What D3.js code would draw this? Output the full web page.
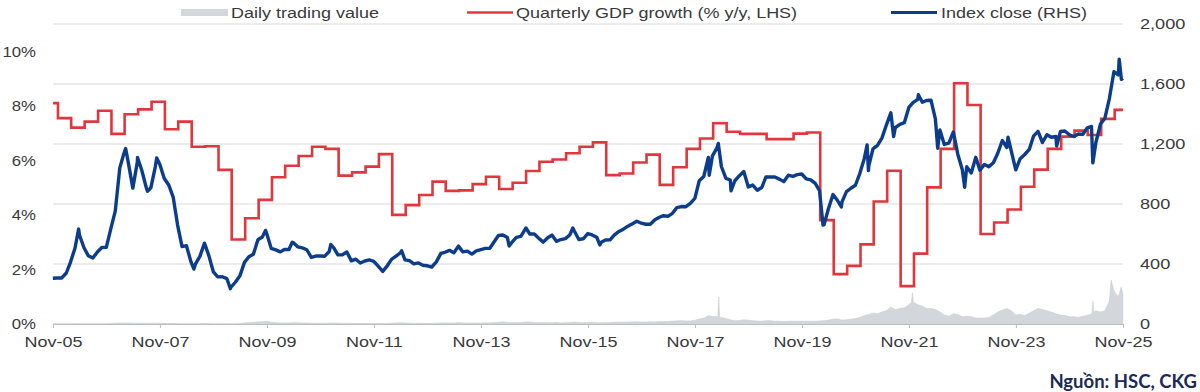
<!DOCTYPE html>
<html>
<head>
<meta charset="utf-8">
<script src="https://cdn.jsdelivr.net/npm/d3@7"></script>
<style>
  body { margin: 0; background: #fff; }
  svg { display: block; }
</style>
</head>
<body>
<div id="vis"></div>
<script>
// ---- data ----
// month-end values, Oct-05 .. Oct-25 (one per month)
const firstMonth = [2005, 9];
const indexClose = [
  305, 307, 307,
  340, 411, 505, 595, 510, 455, 440, 480, 510, 511, 633, 752,
  1041, 1137, 1071, 906, 1081, 1025, 908, 908, 1046, 1065, 972, 927,
  844, 663, 516, 522, 414, 399, 451, 539, 456, 347, 314, 315,
  303, 245, 280, 321, 411, 448, 465, 562, 580, 600, 504, 494,
  481, 497, 497, 542, 514, 507, 495, 444, 453, 453, 452, 484,
  508, 461, 462, 480, 421, 432, 407, 420, 427, 418, 386, 351,
  388, 431, 452, 475, 428, 422, 401, 407, 392, 388, 380, 414,
  471, 478, 491, 475, 519, 481, 486, 466, 488, 496, 504, 505,
  550, 590, 593, 577, 544, 578, 584, 634, 600, 600, 572, 546,
  575, 593, 551, 563, 569, 593, 620, 563, 568, 603, 594, 579,
  545, 560, 561, 594, 617, 632, 652, 668, 685, 672, 665, 665,
  695, 710, 722, 718, 738, 776, 783, 782, 804, 837, 955, 984,
  1110, 1121, 1174, 1050, 971, 960, 955, 989, 1017, 914, 926, 892,
  910, 980, 980, 980, 966, 949, 992, 984, 996, 1000, 967, 961,
  937, 889, 662, 769, 863, 825, 812, 882, 905, 925, 1003, 1104,
  1056, 1168, 1191, 1239, 1328, 1408, 1310, 1331, 1342, 1444, 1478, 1498,
  1478, 1490, 1492, 1367, 1293, 1197, 1206, 1280, 1132, 1028, 1048, 1007,
  1111, 1025, 1064, 1049, 1075, 1138, 1223, 1177, 1154, 1028, 1102, 1130,
  1164, 1252, 1284, 1210, 1262, 1245, 1251, 1283, 1287, 1262, 1250, 1267,
  1264, 1306, 1317, 1210, 1333, 1371, 1503, 1682, 1661, 1639
];
// intra-month highs and lows of the index
const indexExtremes = [
  ["2006-04-25", 633], ["2007-03-12", 1170], ["2007-06-01", 1110], ["2007-08-08", 885],
  ["2007-10-10", 1107], ["2008-06-20", 366], ["2009-02-24", 235], ["2009-10-22", 624],
  ["2010-04-22", 545], ["2011-01-10", 530], ["2012-05-08", 488], ["2014-05-12", 520],
  ["2014-09-04", 640], ["2015-07-21", 640], ["2016-01-21", 527], ["2018-02-06", 992],
  ["2018-04-09", 1204], ["2018-07-05", 888], ["2020-03-24", 660], ["2020-07-27", 780],
  ["2021-01-19", 1194], ["2021-01-28", 1023], ["2021-07-19", 1250], ["2022-01-04", 1528],
  ["2022-05-16", 1172], ["2022-11-16", 911], ["2023-09-08", 1245], ["2024-08-05", 1187],
  ["2025-04-09", 1074], ["2025-10-06", 1766], ["2025-10-21", 1631]
];
// daily trading value, VND trn (monthly typical level), Oct-05 .. Oct-25
const tradingValue = [
  0.3, 0.3, 0.3,
  0.3, 0.4, 0.6, 0.8, 0.6, 0.5, 0.4, 0.4, 0.5, 0.6, 0.9, 1.2,
  1.5, 1.6, 1.5, 1.2, 1.3, 1.2, 1.0, 1.0, 1.2, 1.3, 1.1, 1.0,
  0.9, 0.7, 0.5, 0.5, 0.4, 0.4, 0.5, 0.8, 0.7, 0.5, 0.4, 0.4,
  0.4, 0.3, 0.5, 0.9, 1.8, 2.5, 2.8, 3.5, 3.8, 4.5, 3.0, 2.0,
  1.8, 1.6, 1.8, 2.2, 2.0, 1.6, 1.5, 1.2, 1.2, 1.3, 1.3, 1.6,
  1.5, 1.2, 1.0, 1.2, 0.9, 0.9, 0.8, 0.8, 0.9, 0.8, 0.7, 0.6,
  0.8, 1.4, 1.8, 2.0, 1.6, 1.3, 1.0, 1.3, 1.0, 0.9, 0.9, 1.2,
  1.8, 1.7, 1.7, 1.6, 2.5, 1.8, 1.5, 1.5, 1.6, 1.8, 2.0, 1.8,
  2.4, 3.0, 3.6, 2.6, 2.2, 2.4, 2.3, 3.2, 3.4, 2.6, 2.2, 2.4,
  2.2, 2.2, 2.4, 1.8, 2.0, 2.6, 3.2, 2.6, 2.2, 2.6, 2.6, 2.2,
  2.0, 2.2, 2.6, 2.8, 2.8, 3.0, 3.2, 3.4, 3.6, 3.2, 3.4, 3.6,
  3.4, 4.0, 4.2, 4.2, 4.8, 5.2, 5.6, 5.0, 5.2, 6.0, 8.5, 9.5,
  14, 12, 13, 11, 9, 7, 5.5, 6, 7, 6.5, 5.5, 5,
  4.5, 5.5, 5.5, 4.5, 4.5, 4, 4.5, 4.5, 4.5, 4.5, 4.5, 4.5,
  4.5, 5, 5.5, 6.5, 8, 8.5, 6.5, 7, 8, 9, 11, 14,
  16, 18, 17, 20, 22, 28, 24, 26, 27, 32, 38, 32,
  30, 26, 26, 24, 20, 15, 13, 17, 16, 12, 13, 12,
  10, 10, 10, 11, 15, 20, 23, 26, 22, 15, 16, 14,
  18, 22, 26, 24, 22, 20, 17, 15, 14, 12, 12, 11,
  13, 14, 17, 22, 20, 22, 38, 55, 45, 50
];
// single-day spikes in trading value, with the level around them
const tradingExtremes = [
  ["2018-04-06", 11], ["2018-04-12", 45], ["2018-04-18", 11],
  ["2021-11-18", 36], ["2021-11-25", 52], ["2021-12-02", 36],
  ["2025-04-04", 20], ["2025-04-10", 38], ["2025-04-16", 20],
  ["2025-08-12", 73], ["2025-10-20", 62]
];
// GDP growth, % y/y (year to date), one per quarter from Q3-05 to Q3-25
const gdpGrowth = [
  8.1, 7.55,
  7.2, 7.42, 7.82, 6.97,
  7.69, 7.87, 8.15, 7.14,
  7.42, 6.5, 6.52, 5.65,
  3.1, 3.88, 4.55, 5.38,
  5.8, 6.16, 6.5, 6.42,
  5.44, 5.56, 5.77, 6.23,
  4.0, 4.36, 4.73, 5.22,
  4.88, 4.9, 5.13, 5.4,
  4.95, 5.18, 5.61, 5.95,
  6.03, 6.26, 6.5, 6.66,
  5.46, 5.52, 5.92, 6.21,
  5.1, 5.75, 6.42, 6.8,
  7.36, 7.05, 6.97, 6.97,
  6.78, 6.78, 6.98, 7.02,
  3.81, 1.83, 2.13, 2.92,
  4.49, 5.62, 1.39, 2.58,
  5.01, 6.42, 8.83, 8.03,
  3.3, 3.72, 4.2, 5.03,
  5.66, 6.42, 6.87, 7.09,
  6.93, 7.52, 7.85
];
const leftTicks = [0, 2, 4, 6, 8, 10];
const rightTicks = [0, 400, 800, 1200, 1600, 2000];
const xTickYears = [2005, 2007, 2009, 2011, 2013, 2015, 2017, 2019, 2021, 2023, 2025];
const legendLabels = ["Daily trading value", "Quarterly GDP growth (% y/y, LHS)", "Index close (RHS)"];
const sourceNote = "Nguồn: HSC, CKG";

// ---- build series ----
const parse = d3.timeParse("%Y-%m-%d");
const monthEnd = i => new Date(firstMonth[0], firstMonth[1] + i + 1, 0);

const indexData = indexClose.map((v, i) => ({date: monthEnd(i), v}))
  .concat(indexExtremes.map(d => ({date: parse(d[0]), v: d[1]})))
  .sort((a, b) => a.date - b.date);

const tradeData = tradingValue.map((v, i) => ({date: monthEnd(i), v}))
  .concat(tradingExtremes.map(d => ({date: parse(d[0]), v: d[1]})))
  .sort((a, b) => a.date - b.date);

// chart space
const width = 1200;
const height = 392;
const margin = ({top: 24, right: 77, bottom: 68, left: 53});
const start = new Date(2005, 10, 1);
const end = new Date(2025, 10, 1);

const gdpData = gdpGrowth.map((v, i) => {
  const d = new Date(2005, 8 + 3 * i, 5);
  return {date: d < start ? start : d, v};
});
gdpData.push({date: end, v: gdpGrowth[gdpGrowth.length - 1]});

const svg = d3.select('#vis').append('svg')
  .attr('width', width)
  .attr('height', height);

// scales
const x = d3.scaleTime()
  .domain([start, end])
  .range([margin.left, width - margin.right]);

const yLeft = d3.scaleLinear()
  .domain([0, 11])
  .range([height - margin.bottom, margin.top]);

const yRight = d3.scaleLinear()
  .domain([0, 2000])
  .range([height - margin.bottom, margin.top]);

// hidden scale for the trading value area
const yTrade = d3.scaleLinear()
  .domain([0, 500])
  .range([height - margin.bottom, margin.top]);

const font = 'Liberation Sans, Arial, sans-serif';
const textColor = '#3a3a3a';

// stretch labels a little: the source picture is wider than it is tall
function widen(sel, k) {
  sel.each(function () {
    const w = this.getComputedTextLength();
    d3.select(this).attr('textLength', w * k).attr('lengthAdjust', 'spacingAndGlyphs');
  });
}

// gridlines
svg.append('g')
  .selectAll('line')
  .data(rightTicks.filter(d => d > 0))
  .join('line')
    .attr('x1', margin.left)
    .attr('x2', width - margin.right)
    .attr('y1', d => yRight(d))
    .attr('y2', d => yRight(d))
    .attr('stroke', '#d9d9d9')
    .attr('stroke-width', 1);

// trading value area
svg.append('path')
  .datum(tradeData)
  .attr('fill', '#d3d6db')
  .attr('stroke', '#c9ccd1')
  .attr('stroke-width', 0.6)
  .attr('d', d3.area()
    .x(d => x(d.date))
    .y0(yTrade(0))
    .y1(d => yTrade(d.v)));

// x axis
const xAxis = svg.append('g')
  .attr('transform', `translate(0, ${height - margin.bottom})`)
  .call(d3.axisBottom(x)
    .tickValues(xTickYears.map(y => new Date(y, 10, 1)))
    .tickFormat(d3.timeFormat('%b-%y'))
    .tickSize(4)
    .tickSizeOuter(0)
    .tickPadding(8));
xAxis.select('.domain').attr('stroke', '#bfbfbf');
xAxis.selectAll('.tick line').attr('stroke', '#bfbfbf');
xAxis.selectAll('text')
  .attr('font-family', font)
  .attr('font-size', 15.5)
  .attr('fill', textColor);

// left axis
const leftAxis = svg.append('g')
  .attr('transform', 'translate(36, 0)')
  .call(d3.axisLeft(yLeft).tickValues(leftTicks).tickFormat(d => d + '%').tickSize(0).tickPadding(0));
leftAxis.select('.domain').remove();
leftAxis.selectAll('text')
  .attr('font-family', font)
  .attr('font-size', 15.5)
  .attr('fill', textColor);

// right axis
const rightAxis = svg.append('g')
  .attr('transform', 'translate(1140, 0)')
  .call(d3.axisRight(yRight).tickValues(rightTicks).tickFormat(d3.format(',')).tickSize(0).tickPadding(0));
rightAxis.select('.domain').remove();
rightAxis.selectAll('text')
  .attr('font-family', font)
  .attr('font-size', 15.5)
  .attr('fill', textColor);

// GDP step line
svg.append('path')
  .datum(gdpData)
  .attr('fill', 'none')
  .attr('stroke', '#e0363c')
  .attr('stroke-width', 2.6)
  .attr('d', d3.line()
    .curve(d3.curveStepAfter)
    .x(d => x(d.date))
    .y(d => yLeft(d.v)));

// index line
svg.append('path')
  .datum(indexData)
  .attr('fill', 'none')
  .attr('stroke', '#0c3d8d')
  .attr('stroke-width', 3.4)
  .attr('stroke-linejoin', 'round')
  .attr('d', d3.line()
    .x(d => x(d.date))
    .y(d => yRight(d.v)));

// legend
const legend = svg.append('g');
legend.append('rect')
  .attr('x', 181).attr('y', 9)
  .attr('width', 47).attr('height', 7)
  .attr('fill', '#d3d6db');
legend.append('line')
  .attr('x1', 467).attr('x2', 513).attr('y1', 12.5).attr('y2', 12.5)
  .attr('stroke', '#e0363c').attr('stroke-width', 2.6);
legend.append('line')
  .attr('x1', 891).attr('x2', 937).attr('y1', 12.5).attr('y2', 12.5)
  .attr('stroke', '#0c3d8d').attr('stroke-width', 3);
legend.selectAll('text')
  .data(legendLabels)
  .join('text')
    .attr('x', (d, i) => [231, 516, 941][i])
    .attr('y', 18)
    .attr('font-family', font)
    .attr('font-size', 15.5)
    .attr('fill', textColor)
    .text(d => d);

// source
svg.append('text')
  .attr('x', 1197)
  .attr('y', 388)
  .attr('text-anchor', 'end')
  .attr('font-family', 'Lato, sans-serif')
  .attr('font-weight', 700)
  .attr('font-size', 18.5)
  .attr('fill', '#1b2a58')
  .text(sourceNote);

widen(xAxis.selectAll('text'), 1.16);
widen(rightAxis.selectAll('text'), 1.17);
widen(leftAxis.selectAll('text'), 1.08);
widen(legend.selectAll('text'), 1.16);
</script>
</body>
</html>
